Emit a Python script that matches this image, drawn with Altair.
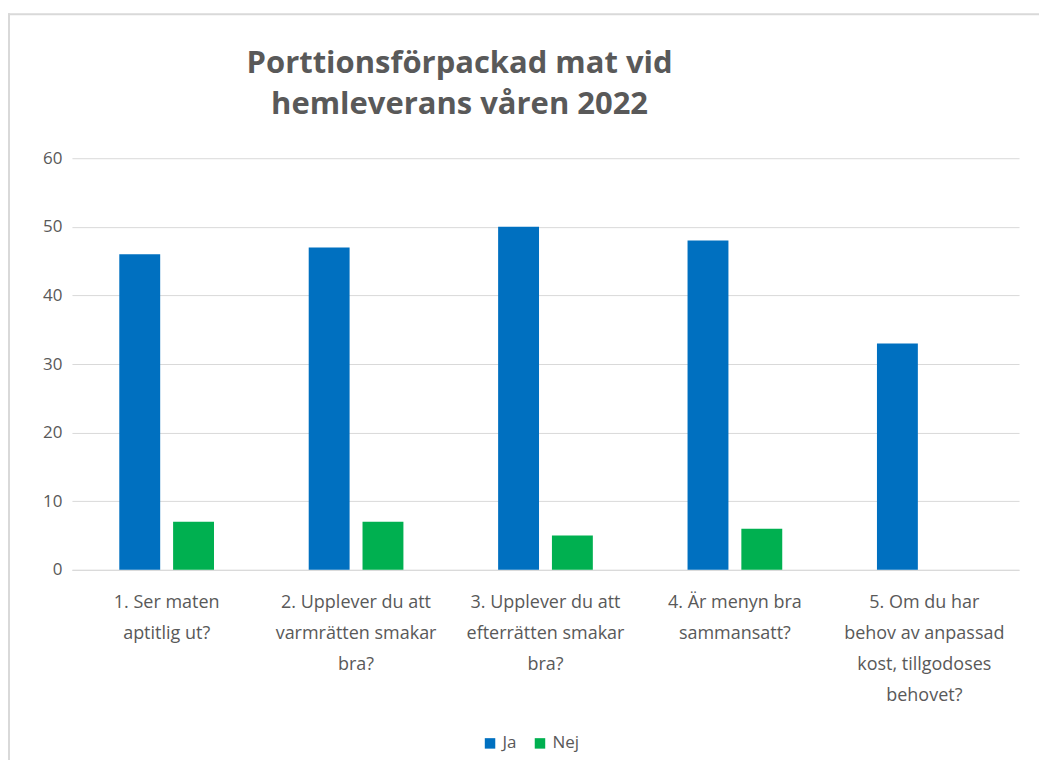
import altair as alt
import pandas as pd

categories = [
    "1. Ser maten\naptitlig ut?",
    "2. Upplever du att\nvarmrätten smakar\nbra?",
    "3. Upplever du att\nefterrätten smakar\nbra?",
    "4. Är menyn bra\nsammansatt?",
    "5. Om du har\nbehov av anpassad\nkost, tillgodoses\nbehovet?",
]
ja = [46, 47, 50, 48, 33]
nej = [7, 7, 5, 6, 0]
series = ["Ja", "Nej"]
colors = ["#0070C0", "#00B050"]
y_ticks = [0, 10, 20, 30, 40, 50, 60]
title_lines = ["Porttionsförpackad mat vid", "hemleverans våren 2022"]

rows = []
for c, a, b in zip(categories, ja, nej):
    rows.append({"Fråga": c, "Svar": "Ja", "Antal": a})
    rows.append({"Fråga": c, "Svar": "Nej", "Antal": b})
df = pd.DataFrame(rows)

FONT = "Open Sans"
TXT = "#595959"
GRID = "#D9D9D9"

bars = alt.Chart(df).mark_bar().encode(
    x=alt.X(
        "Fråga:N", sort=categories,
        scale=alt.Scale(paddingInner=0.5, paddingOuter=0.25),
        axis=alt.Axis(
            title=None, labelAngle=0, labelExpr="split(datum.label, '\\n')",
            labelFontSize=18, labelColor=TXT, labelFont=FONT, labelLineHeight=31,
            labelPadding=24, labelLimit=400, ticks=False, domainColor=GRID,
            labelBaseline="top", grid=False,
        ),
    ),
    xOffset=alt.XOffset("Svar:N", sort=series,
                        scale=alt.Scale(paddingInner=0.24, paddingOuter=0)),
    y=alt.Y(
        "Antal:Q", scale=alt.Scale(domain=[0, 60]),
        axis=alt.Axis(
            values=y_ticks, title=None, domain=False, ticks=False,
            labelFontSize=17, labelColor=TXT, labelFont=FONT, labelPadding=10,
            gridColor=GRID, gridWidth=1,
        ),
    ),
    color=alt.Color(
        "Svar:N", scale=alt.Scale(domain=series, range=colors),
        legend=alt.Legend(
            title=None, orient="none", legendX=410, legendY=577, direction="horizontal",
            symbolType="square", symbolSize=110, symbolStrokeWidth=0,
            labelFontSize=17, labelColor=TXT, labelFont=FONT, columnPadding=14,
        ),
    ),
)

one = pd.DataFrame({"k": [0]})
top_edge = alt.Chart(one).mark_rule(color=GRID, strokeWidth=2).encode(
    x=alt.value(-64), x2=alt.value(1000), y=alt.value(-144)
)
left_edge = alt.Chart(one).mark_rule(color=GRID, strokeWidth=2).encode(
    x=alt.value(-63), y=alt.value(-145), y2=alt.value(620)
)

title_style = dict(font=FONT, fontSize=31, fontWeight="bold", color=TXT,
                   align="center", baseline="middle")
title1 = alt.Chart(one).mark_text(**title_style).encode(
    x=alt.value(388), y=alt.value(-94), text=alt.value(title_lines[0])
)
title2 = alt.Chart(one).mark_text(**title_style).encode(
    x=alt.value(388), y=alt.value(-53), text=alt.value(title_lines[1])
)

chart = alt.layer(bars, top_edge, left_edge, title1, title2).properties(
    width=948, height=412,
    autosize=alt.AutoSizeParams(type="none"),
    padding={"left": 64, "top": 150, "right": 20, "bottom": 190},
).configure_view(stroke=None)

chart.save("out.html", embed_options={"renderer": "svg", "actions": False})
